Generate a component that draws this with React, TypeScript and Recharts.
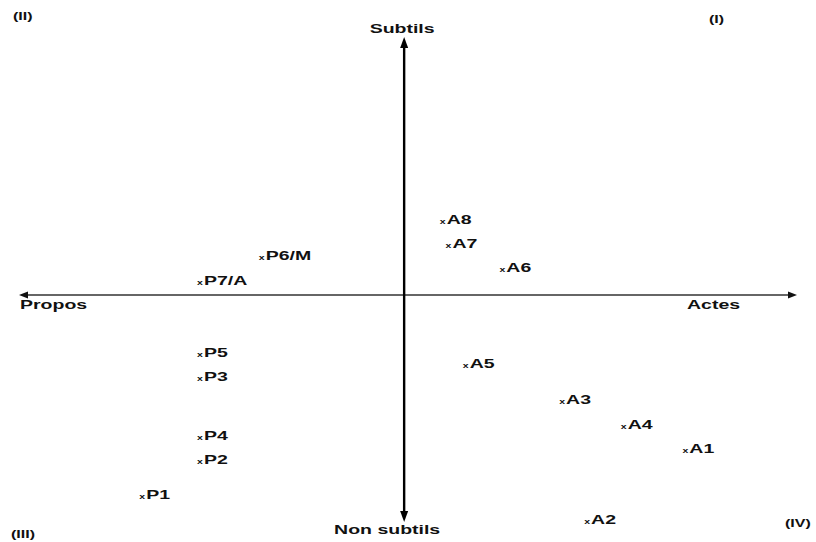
import React from "react";
import { ScatterChart, Scatter, XAxis, YAxis, ReferenceLine } from "recharts";

// point labels and their positions (x: propos -> actes, y: non subtils -> subtils)
const labels = ["A8", "A7", "A6", "P6/M", "P7/A", "P5", "P3", "P4", "P2", "P1", "A5", "A3", "A4", "A1", "A2"];
const xs = [1.0, 1.15, 2.55, -3.7, -5.3, -5.3, -5.3, -5.3, -5.3, -6.8, 1.6, 4.1, 5.7, 7.3, 4.75];
const ys = [2.95, 2.02, 1.09, 1.55, 0.58, -2.21, -3.14, -5.43, -6.36, -7.71, -2.64, -4.03, -5.0, -5.93, -8.68];

const quadrants = ["(I)", "(II)", "(III)", "(IV)"];

const data = labels.map((name, i) => ({ name, x: xs[i], y: ys[i] }));

const FONT = "'Liberation Sans', Arial, sans-serif";

function Wide({ x, y, size = 13, sx = 1.5, anchor = "start", children }: any) {
  return (
    <text
      transform={`translate(${x},${y}) scale(${sx},1)`}
      fontFamily={FONT}
      fontWeight="bold"
      fontSize={size}
      fill="#111"
      textAnchor={anchor}
    >
      {children}
    </text>
  );
}

function PointMark(props: any) {
  const { cx, cy, payload } = props;
  return (
    <g>
      <Wide x={cx} y={cy + 5} size={7} anchor="middle">x</Wide>
      <Wide x={cx + 4} y={cy + 5}>{payload.name}</Wide>
    </g>
  );
}

function VArrow(props: any) {
  const { x1, y1, y2 } = props;
  const top = Math.min(y1, y2);
  const bot = Math.max(y1, y2);
  return (
    <g>
      <line x1={x1} x2={x1} y1={top + 8} y2={bot - 8} stroke="#000" strokeWidth={2.4} />
      <polygon points={`${x1},${top} ${x1 - 4},${top + 11} ${x1 + 4},${top + 11}`} fill="#000" />
      <polygon points={`${x1},${bot} ${x1 - 4},${bot - 11} ${x1 + 4},${bot - 11}`} fill="#000" />
      <Wide x={x1 - 2} y={top - 4} anchor="middle">Subtils</Wide>
      <Wide x={x1 - 17} y={bot + 12} anchor="middle">Non subtils</Wide>
    </g>
  );
}

function HArrow(props: any) {
  const { x1, x2, y1 } = props;
  const left = Math.min(x1, x2);
  const right = Math.max(x1, x2);
  return (
    <g>
      <line x1={left + 6} x2={right - 6} y1={y1} y2={y1} stroke="#333" strokeWidth={1.3} />
      <polygon points={`${left},${y1} ${left + 9},${y1 - 3.5} ${left + 9},${y1 + 3.5}`} fill="#111" />
      <polygon points={`${right},${y1} ${right - 9},${y1 - 3.5} ${right - 9},${y1 + 3.5}`} fill="#111" />
      <Wide x={left + 1} y={y1 + 14}>Propos</Wide>
      <Wide x={right - 110} y={y1 + 14}>Actes</Wide>
    </g>
  );
}

export default function App() {
  return (
    <div style={{ position: "absolute", left: 0, top: 0, width: 816, height: 542, background: "#fff" }}>
      <ScatterChart width={816} height={542} margin={{ top: 37, right: 19, bottom: 20, left: 19 }}>
        <XAxis type="number" dataKey="x" domain={[-10, 10.2]} hide />
        <YAxis type="number" dataKey="y" domain={[-8.8, 10]} hide />
        <ReferenceLine y={0} shape={HArrow} ifOverflow="visible" />
        <ReferenceLine x={0} shape={VArrow} ifOverflow="visible" />
        <Scatter data={data} shape={PointMark} isAnimationActive={false} />
      </ScatterChart>
      <svg width={816} height={542} style={{ position: "absolute", left: 0, top: 0, pointerEvents: "none" }}>
        <Wide x={709} y={23} size={10} sx={1.6}>{quadrants[0]}</Wide>
        <Wide x={13} y={20} size={10} sx={1.6}>{quadrants[1]}</Wide>
        <Wide x={11} y={538} size={10} sx={1.6}>{quadrants[2]}</Wide>
        <Wide x={785} y={527} size={10} sx={1.6}>{quadrants[3]}</Wide>
      </svg>
    </div>
  );
}
